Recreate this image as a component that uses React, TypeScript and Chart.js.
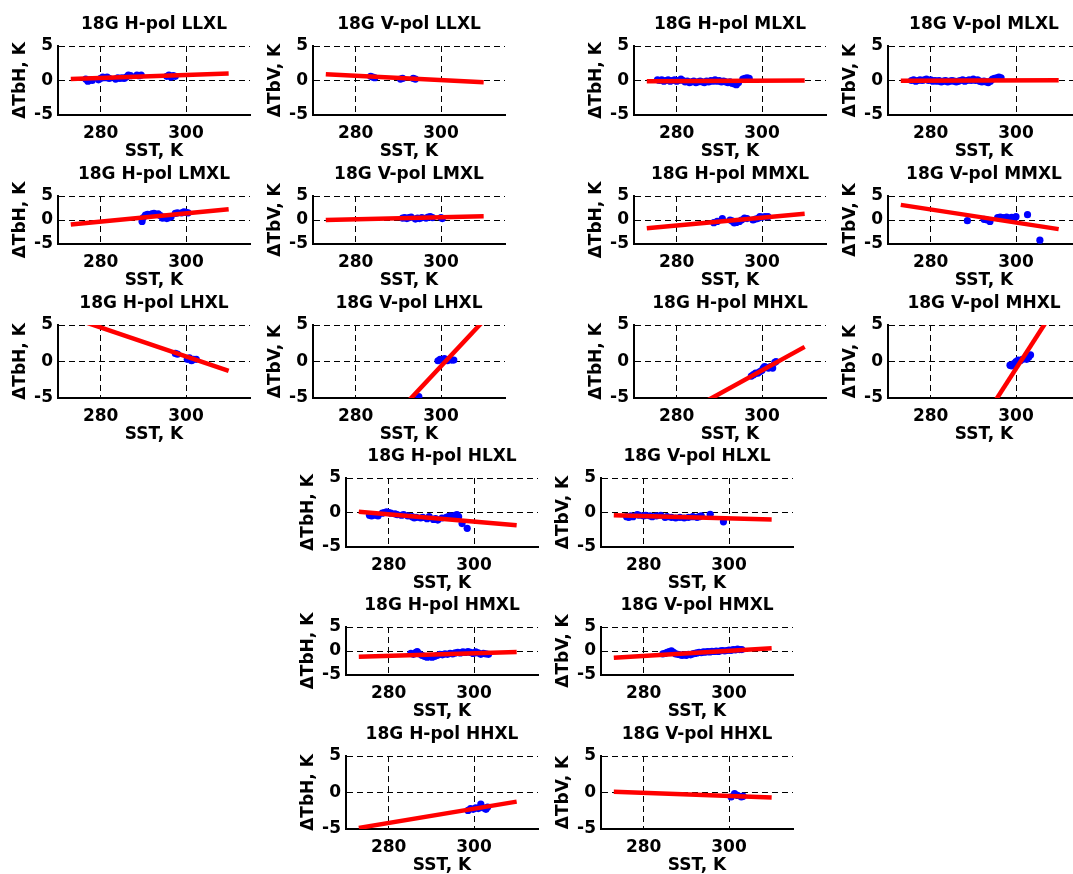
import React, { useEffect, useRef } from 'react';
import { Chart, registerables } from 'chart.js';

Chart.register(...registerables);

// ---------- data ----------
const xTicks = [280, 300];
const yTicks = [-5, 0, 5];
const xRange = [270, 315];
const yRange = [-5, 5];
const fitX = [273, 310];

type Pt = [number, number];

const ptsHLLXL: Pt[] = [[276.5,0.2],[277,-0.1],[277.5,0.1],[278,0.0],[279.5,0.1],[280,0.3],[280.5,0.5],[281,0.4],[281.5,0.5],[282,0.3],[283.5,0.2],[284,0.4],[284.5,0.3],[285,0.4],[285.5,0.3],[286,0.5],[286.5,0.8],[287,0.7],[288.5,0.8],[289,0.7],[289.5,0.8],[295.5,0.6],[296,0.8],[296.5,0.5],[297,0.7],[297.5,0.6]];
const ptsVLLXL: Pt[] = [[283.5,0.6],[284,0.5],[284.5,0.4],[290.5,0.2],[291,0.3],[293.5,0.3],[294,0.2]];
const ptsHMLXL: Pt[] = [[275.5,0.1],[276,0.0],[276.5,0.1],[277,-0.1],[277.5,0.0],[278,0.1],[278.5,-0.1],[279,0.0],[279.5,0.1],[280,-0.1],[280.5,0.0],[281,0.2],[281.5,0.0],[282,-0.2],[282.5,-0.1],[283,-0.3],[283.5,-0.2],[284,-0.1],[284.5,-0.3],[285,-0.2],[285.5,-0.1],[286,-0.2],[286.5,-0.3],[287,-0.1],[287.5,-0.2],[288,0.0],[288.5,-0.1],[289,0.1],[289.5,-0.1],[290,0.0],[290.5,-0.2],[291,-0.1],[291.5,-0.2],[292,-0.3],[292.5,-0.2],[293,-0.4],[293.5,-0.5],[294,-0.6],[294.5,-0.3],[295.5,0.2],[296,0.3],[296.5,0.4],[297,0.3]];
const ptsVMLXL: Pt[] = [[275.5,0.0],[276,0.1],[276.5,-0.1],[277,0.0],[277.5,0.1],[278,0.0],[278.5,0.1],[279,0.2],[279.5,0.0],[280,0.1],[280.5,-0.1],[281,0.0],[281.5,-0.1],[282,0.0],[282.5,-0.2],[283,-0.1],[283.5,0.0],[284,-0.2],[284.5,-0.1],[285,0.0],[285.5,-0.1],[286,-0.2],[286.5,-0.1],[287,0.0],[287.5,0.1],[288,-0.1],[288.5,0.0],[289,0.1],[289.5,0.0],[290,0.2],[290.5,0.0],[291,0.1],[291.5,-0.1],[292,-0.2],[292.5,-0.1],[293,-0.2],[293.5,-0.3],[294,-0.1],[294.5,0.2],[295,0.3],[295.5,0.4],[296,0.5],[296.5,0.4]];
const ptsHLMXL: Pt[] = [[289.7,-0.3],[290,0.5],[290.5,1.0],[291,1.2],[291.5,1.1],[292,1.3],[292.5,1.4],[293,1.2],[293.5,1.3],[294,0.9],[294.5,0.4],[295,0.6],[295.5,0.3],[296,0.5],[296.5,0.7],[297.5,1.4],[298,1.5],[299,1.5],[299.5,1.7],[300,1.6],[300.5,1.5]];
const ptsVLMXL: Pt[] = [[291,0.4],[291.5,0.5],[292,0.3],[292.5,0.5],[293,0.6],[294,0.2],[294.5,0.4],[295,0.3],[295.5,0.5],[296.5,0.4],[297,0.6],[297.5,0.7],[298,0.5],[300,0.5],[300.3,0.3]];
const ptsHMMXL: Pt[] = [[288.7,-0.55],[289.5,-0.3],[290.7,0.3],[292.5,0.0],[293,-0.2],[293.5,-0.6],[294,-0.5],[294.7,-0.3],[295.2,0.0],[295.9,0.4],[296.5,0.3],[297.9,0.0],[298.5,0.2],[299,0.3],[299.5,0.7],[300,0.6],[300.7,0.7],[301.4,0.7]];
const ptsVMMXL: Pt[] = [[288.6,-0.15],[292.5,0.15],[293.2,0.0],[293.9,-0.3],[295.7,0.5],[296.3,0.6],[297,0.5],[297.8,0.6],[298.5,0.4],[299,0.55],[299.6,0.5],[300,0.7],[302.7,1.1],[305.6,-4.2]];
const ptsHLHXL: Pt[] = [[297.5,1.1],[298,1.0],[300.3,0.3],[300.8,0.5],[301.3,0.1],[301.8,0.3],[302.4,0.3]];
const ptsVLHXL: Pt[] = [[294.8,-4.8],[299.3,0.1],[299.8,0.3],[300.3,0.2],[300.8,0.4],[301.5,0.1],[302,0.3],[302.5,0.2],[303,0.2]];
const ptsHMHXL: Pt[] = [[297.5,-2.0],[298,-1.8],[298.5,-1.6],[299,-1.6],[299.5,-1.4],[300,-1.2],[300.3,-0.9],[300.6,-0.7],[301,-0.8],[301.5,-0.9],[302,-0.7],[302.5,-0.9],[303,-0.1],[303.3,0.0]];
const ptsVMHXL: Pt[] = [[298.6,-0.5],[299,-0.6],[299.5,-0.3],[300,0.0],[300.5,0.2],[301,0.1],[301.5,0.3],[302,0.4],[302.5,0.3],[303,0.6],[303.4,0.9]];
const ptsHHLXL: Pt[] = [[275.5,-0.4],[276,-0.5],[276.5,-0.3],[277,-0.4],[277.5,-0.5],[278.5,-0.1],[279,0.0],[279.5,0.1],[280,0.0],[280.5,-0.1],[281.5,-0.2],[282,-0.3],[283,-0.4],[283.5,-0.3],[284.5,-0.5],[285.5,-0.6],[286,-0.8],[286.5,-0.7],[287.5,-0.8],[288,-0.7],[289,-0.9],[289.5,-0.6],[290.5,-1.0],[291,-0.9],[291.5,-1.1],[292.5,-0.8],[293.5,-0.7],[294,-0.6],[294.5,-0.5],[295,-0.6],[295.5,-0.4],[296,-0.3],[296.4,-0.6],[297.2,-1.6],[298.4,-2.3]];
const ptsVHLXL: Pt[] = [[276,-0.6],[276.5,-0.7],[277,-0.5],[277.5,-0.6],[278.5,-0.3],[279,-0.4],[280,-0.5],[280.5,-0.4],[281.5,-0.5],[282,-0.6],[283,-0.5],[284,-0.4],[285,-0.7],[285.5,-0.6],[286.5,-0.7],[287.5,-0.8],[288.5,-0.7],[289.5,-0.8],[290.5,-0.7],[291.5,-0.6],[292.5,-0.7],[293,-0.6],[293.5,-0.5],[295.6,-0.25],[298.7,-1.35]];
const ptsHHMXL: Pt[] = [[285.2,-0.5],[285.8,-0.7],[286.4,-0.3],[286.7,-0.1],[287.2,-0.6],[287.8,-0.9],[288.4,-1.1],[289,-1.3],[289.6,-1.2],[290.2,-1.3],[290.8,-1.1],[291.4,-0.9],[292,-0.7],[292.6,-0.8],[293.2,-0.6],[293.8,-0.7],[294.4,-0.5],[295,-0.6],[295.6,-0.4],[296.2,-0.3],[296.8,-0.4],[297.4,-0.2],[298,-0.3],[298.6,-0.1],[299.2,-0.3],[299.8,-0.5],[300.4,-0.2],[301,-0.4],[301.6,-0.7],[302.2,-0.5],[302.8,-0.6],[303.4,-0.7]];
const ptsVHMXL: Pt[] = [[284.5,-0.6],[285,-0.5],[285.5,-0.3],[286,-0.1],[286.5,0.05],[287,-0.3],[287.5,-0.6],[288,-0.7],[288.5,-0.8],[289,-0.9],[289.5,-0.8],[290,-0.9],[290.5,-0.7],[291,-0.8],[291.5,-0.6],[292,-0.5],[292.5,-0.4],[293,-0.3],[293.5,-0.35],[294,-0.2],[294.5,-0.25],[295,-0.1],[295.5,-0.2],[296,-0.05],[296.5,-0.1],[297,0.0],[297.5,-0.1],[298,0.05],[298.5,0.1],[299,0.0],[299.5,0.1],[300,0.2],[300.5,0.15],[301,0.3],[301.5,0.25],[302,0.4],[302.5,0.3],[303,0.3]];
const ptsHHHXL: Pt[] = [[298.6,-2.45],[299.2,-2.2],[299.8,-2.3],[300.4,-2.1],[301,-2.2],[301.6,-1.6],[302.2,-2.1],[302.8,-2.3],[303.2,-2.0]];
const ptsVHHXL: Pt[] = [[300.5,-0.6],[301.3,-0.15],[302,-0.4],[302.9,-0.6],[303.3,-0.5]];

// fitted line values at fitX[0] and fitX[1]
const fitHLLXL = [0.2, 1.0];
const fitVLLXL = [0.9, -0.25];
const fitHMLXL = [-0.1, 0.0];
const fitVMLXL = [-0.05, 0.05];
const fitHLMXL = [-0.95, 2.25];
const fitVLMXL = [0.0, 0.8];
const fitHMMXL = [-1.7, 1.3];
const fitVMMXL = [3.15, -1.9];
const fitHLHXL = [6.05, -1.3];
const fitVLHXL = [-17.5, 5.6];
const fitHMHXL = [-9.9, 2.0];
const fitVMHXL = [-25.5, 8.1];
const fitHHLXL = [0.1, -1.85];
const fitVHLXL = [-0.4, -1.0];
const fitHHMXL = [-1.2, -0.2];
const fitVHMXL = [-1.4, 0.55];
const fitHHHXL = [-4.85, -1.25];
const fitVHHXL = [0.1, -0.7];

const titles = [
  '18G H-pol LLXL', '18G V-pol LLXL', '18G H-pol MLXL', '18G V-pol MLXL',
  '18G H-pol LMXL', '18G V-pol LMXL', '18G H-pol MMXL', '18G V-pol MMXL',
  '18G H-pol LHXL', '18G V-pol LHXL', '18G H-pol MHXL', '18G V-pol MHXL',
  '18G H-pol HLXL', '18G V-pol HLXL',
  '18G H-pol HMXL', '18G V-pol HMXL',
  '18G H-pol HHXL', '18G V-pol HHXL',
];
const yLabels = ['ΔTbH, K', 'ΔTbV, K'];
const xLabel = 'SST, K';

const pointSets = [
  ptsHLLXL, ptsVLLXL, ptsHMLXL, ptsVMLXL,
  ptsHLMXL, ptsVLMXL, ptsHMMXL, ptsVMMXL,
  ptsHLHXL, ptsVLHXL, ptsHMHXL, ptsVMHXL,
  ptsHHLXL, ptsVHLXL, ptsHHMXL, ptsVHMXL, ptsHHHXL, ptsVHHXL,
];
const fitSets = [
  fitHLLXL, fitVLLXL, fitHMLXL, fitVMLXL,
  fitHLMXL, fitVLMXL, fitHMMXL, fitVMMXL,
  fitHLHXL, fitVLHXL, fitHMHXL, fitVMHXL,
  fitHHLXL, fitVHLXL, fitHHMXL, fitVHMXL, fitHHHXL, fitVHHXL,
];

// ---------- layout (axes boxes, px) ----------
const AX_W = 192;
const topColLeft = [58, 313, 634, 888];
const botColLeft = [346, 601];
const rowTop = [46, 196, 325, 478, 627, 756];
const rowH = [69, 48, 73, 69, 48, 73];

const FONT = "'DejaVu Sans', 'Liberation Sans', sans-serif";
const FS = 17;
const LH = FS * 1.2;
const L = 62, T = 38, R = 6, B = 56;

function Panel({ idx }: { idx: number }) {
  const ref = useRef<HTMLCanvasElement>(null);
  const row = idx < 12 ? Math.floor(idx / 4) : 3 + Math.floor((idx - 12) / 2);
  const col = idx < 12 ? idx % 4 : (idx - 12) % 2;
  const axLeft = idx < 12 ? topColLeft[col] : botColLeft[col];
  const axTop = rowTop[row];
  const axH = rowH[row];
  const w = L + AX_W + R;
  const h = T + axH + B;
  const isH = idx % 2 === 0;

  useEffect(() => {
    const font = { family: FONT, size: FS, weight: 'bold' as const, lineHeight: 1.2 };
    const chart = new Chart(ref.current as HTMLCanvasElement, {
      type: 'scatter',
      data: {
        datasets: [
          {
            data: fitX.map((x, i) => ({ x, y: fitSets[idx][i] })),
            showLine: true,
            borderColor: '#ff0000',
            backgroundColor: '#ff0000',
            borderWidth: 4.5,
            pointRadius: 0,
            fill: false,
          } as any,
          {
            data: pointSets[idx].map(([x, y]) => ({ x, y })),
            pointRadius: 3.6,
            pointBackgroundColor: '#0000ff',
            pointBorderWidth: 0,
            backgroundColor: '#0000ff',
            borderColor: '#0000ff',
          },
        ],
      },
      options: {
        responsive: false,
        animation: false,
        events: [],
        layout: { padding: { left: 0, top: 0, right: R, bottom: 0 } },
        plugins: {
          legend: { display: false },
          tooltip: { enabled: false },
          title: {
            display: true,
            fullSize: false,
            text: titles[idx],
            color: '#000',
            font,
            padding: { top: T - 21 - LH / 2, bottom: 21 - LH / 2 },
          },
        },
        scales: {
          x: {
            type: 'linear',
            min: xRange[0],
            max: xRange[1],
            afterBuildTicks: (s: any) => { s.ticks = xTicks.map((v) => ({ value: v })); },
            afterFit: (s: any) => { s.height = B; },
            grid: { color: '#000', lineWidth: 1, drawTicks: false },
            border: { display: true, color: '#000', width: 2, dash: [6, 4] },
            ticks: { color: '#000', font, padding: 8, maxRotation: 0, autoSkip: false },
            title: { display: true, text: xLabel, color: '#000', font, padding: { top: 0, bottom: B - 36.5 - LH / 2 } },
          },
          y: {
            type: 'linear',
            min: yRange[0],
            max: yRange[1],
            afterBuildTicks: (s: any) => { s.ticks = yTicks.map((v) => ({ value: v })); },
            afterFit: (s: any) => { s.width = L; },
            grid: { color: '#000', lineWidth: 1, drawTicks: false },
            border: { display: true, color: '#000', width: 2, dash: [6, 4] },
            ticks: { color: '#000', font, padding: 5, autoSkip: false },
            title: { display: true, text: isH ? yLabels[0] : yLabels[1], color: '#000', font, padding: { top: L - 37 - LH / 2, bottom: 0 } },
          },
        },
      } as any,
    });
    return () => chart.destroy();
  }, [idx]);

  return (
    <canvas
      ref={ref}
      width={w}
      height={h}
      style={{ position: 'absolute', left: axLeft - L, top: axTop - T, width: w, height: h }}
    />
  );
}

export default function App() {
  return (
    <div style={{ position: 'absolute', left: 0, top: 0, width: 1073, height: 874, overflow: 'hidden', background: '#fff' }}>
      {titles.map((_, i) => <Panel key={i} idx={i} />)}
    </div>
  );
}
